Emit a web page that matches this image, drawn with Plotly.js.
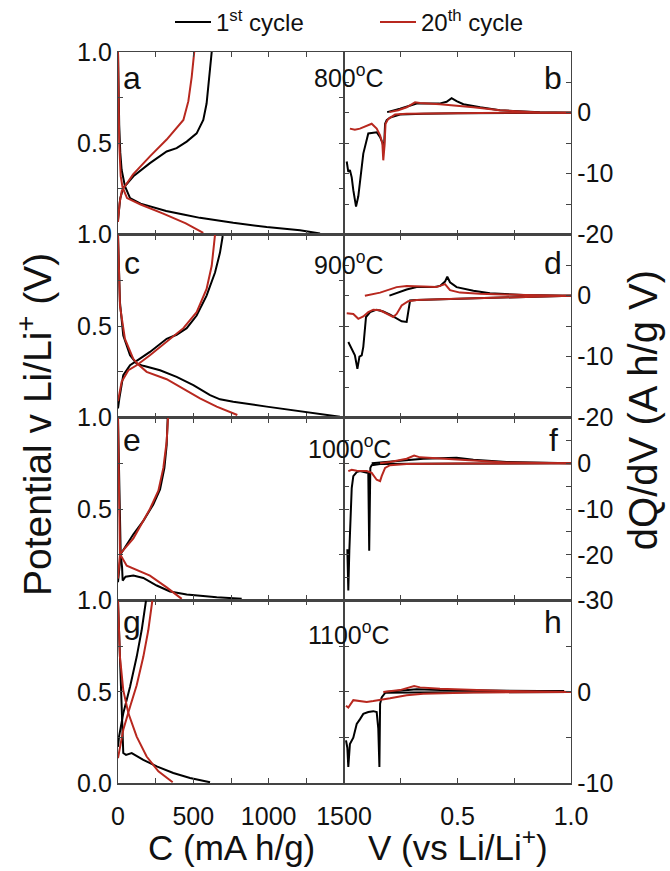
<!DOCTYPE html>
<html>
<head>
<meta charset="utf-8">
<script src="https://cdn.plot.ly/plotly-3.0.1.min.js"></script>
<style>html,body{margin:0;padding:0;background:#fff}#chart{width:670px;height:871px}</style>
</head>
<body>
<div id="chart"></div>
<script>
// ---------- DATA: potential (V) vs capacity C (mA h/g); discharge, null, charge ----------
const a_c1_C  = [0, 3, 8, 15, 24, 46, 80, 150, 212, 320, 434, 544, 765, 987, 1208, 1341, null, 0, 15, 35, 102, 212, 323, 389, 456, 522, 566, 588, 606, 615, 622];
const a_c1_V  = [1.0, 0.8, 0.6, 0.45, 0.355, 0.265, 0.20, 0.17, 0.156, 0.13, 0.11, 0.092, 0.065, 0.042, 0.024, 0.007, null, 0.08, 0.2, 0.255, 0.319, 0.391, 0.455, 0.473, 0.509, 0.554, 0.627, 0.717, 0.862, 0.93, 1.0];
const a_c20_C = [0, 3, 8, 18, 30, 60, 150, 300, 450, 566, null, 0, 10, 25, 100, 212, 323, 434, 467, 489, 506];
const a_c20_V = [1.0, 0.75, 0.5, 0.32, 0.26, 0.2, 0.165, 0.115, 0.062, 0.01, null, 0.07, 0.17, 0.24, 0.33, 0.428, 0.52, 0.627, 0.73, 0.862, 1.0];

const c_c1_C  = [0, 5, 13, 35, 80, 124, 168, 279, 389, 500, 611, 677, 765, 987, 1208, 1473, null, 0, 9, 35, 80, 146, 212, 323, 389, 456, 522, 588, 644, 677, 695];
const c_c1_V  = [1.0, 0.8, 0.63, 0.449, 0.341, 0.295, 0.283, 0.259, 0.223, 0.178, 0.123, 0.10, 0.087, 0.06, 0.036, 0.005, null, 0.05, 0.105, 0.232, 0.286, 0.322, 0.359, 0.431, 0.453, 0.489, 0.558, 0.667, 0.793, 0.902, 0.993];
const c_c20_C = [0, 5, 13, 46, 102, 135, 190, 323, 434, 544, 655, 792, null, 0, 24, 69, 124, 212, 323, 434, 522, 588, 622, 644];
const c_c20_V = [1.0, 0.8, 0.61, 0.43, 0.32, 0.29, 0.25, 0.21, 0.159, 0.105, 0.06, 0.014, null, 0.09, 0.196, 0.259, 0.286, 0.341, 0.413, 0.489, 0.576, 0.703, 0.83, 1.0];

const e_c1_C  = [0, 5, 9, 18, 27, 31, 50, 102, 168, 257, 345, 456, 655, 821, null, 0, 18, 102, 168, 234, 279, 308, 323, 330];
const e_c1_V  = [1.0, 0.8, 0.543, 0.254, 0.181, 0.109, 0.13, 0.136, 0.123, 0.082, 0.049, 0.033, 0.018, 0.009, null, 0.1, 0.254, 0.362, 0.435, 0.525, 0.607, 0.725, 0.851, 1.0];
const e_c20_C = [0, 4, 9, 13, 58, 212, 323, 423, null, 0, 13, 102, 212, 268, 301, 323, 332];
const e_c20_V = [1.0, 0.8, 0.55, 0.254, 0.19, 0.136, 0.072, 0.009, null, 0.12, 0.254, 0.34, 0.5, 0.6, 0.725, 0.87, 1.0];

const g_c1_C  = [0, 13, 27, 35, 53, 91, 168, 257, 367, 478, 611, null, 0, 7, 35, 80, 124, 157, 186];
const g_c1_V  = [1.0, 0.692, 0.419, 0.166, 0.156, 0.166, 0.129, 0.093, 0.057, 0.03, 0.006, null, 0.2, 0.256, 0.383, 0.528, 0.692, 0.837, 1.0];
const g_c20_C = [0, 5, 13, 35, 69, 124, 190, 268, 363, null, 0, 35, 80, 124, 168, 201, 228];
const g_c20_V = [1.0, 0.85, 0.692, 0.51, 0.383, 0.256, 0.147, 0.066, 0.006, null, 0.138, 0.293, 0.419, 0.537, 0.692, 0.837, 1.0];

// ---------- DATA: dQ/dV (A h/g V) vs V (vs Li/Li+) ----------
const b_c1_V  = [0.012, 0.019, 0.026, 0.034, 0.041, 0.053, 0.063, 0.070, 0.085, 0.107, 0.122, 0.144, 0.159, 0.170, 0.176, 0.181, 0.188, 0.203, 0.247, 0.35, 0.5, 0.7, 1.0, null, 0.19, 0.247, 0.32, 0.42, 0.452, 0.474, 0.496, 0.526, 0.6, 0.687, 0.863, 1.0];
const b_c1_Q  = [-8.0, -9.7, -9.4, -10.6, -12.7, -15.4, -13.7, -11.6, -6.7, -3.4, -3.3, -3.2, -4.0, -5.0, -6.0, -1.8, -1.2, -0.8, -0.3, -0.15, -0.08, -0.03, 0, null, 0.1, 0.65, 1.5, 1.5, 1.8, 2.4, 1.9, 1.4, 0.9, 0.4, 0.1, 0.0];
const b_c20_V = [0.026, 0.048, 0.070, 0.092, 0.122, 0.144, 0.159, 0.169, 0.173, 0.178, 0.183, 0.195, 0.225, 0.276, 0.4, 0.6, 1.0, null, 0.2, 0.239, 0.276, 0.313, 0.335, 0.423, 0.570, 0.687, 0.863, 1.0];
const b_c20_Q = [-2.6, -2.8, -2.6, -2.3, -1.8, -2.6, -3.7, -5.0, -7.8, -5.6, -1.8, -1.0, -0.3, -0.15, -0.08, -0.03, 0, null, 0.1, 0.4, 0.9, 1.7, 1.6, 1.4, 0.9, 0.4, 0.05, 0];

const d_c1_V  = [0.019, 0.034, 0.048, 0.059, 0.068, 0.078, 0.085, 0.097, 0.115, 0.144, 0.173, 0.203, 0.232, 0.254, 0.276, 0.291, 0.32, 0.423, 0.55, 0.7, 1.0, null, 0.2, 0.232, 0.276, 0.32, 0.394, 0.423, 0.445, 0.455, 0.467, 0.496, 0.57, 0.643, 0.79, 1.0];
const d_c1_Q  = [-7.6, -8.7, -9.8, -12.0, -10.0, -9.8, -8.4, -3.5, -2.7, -2.3, -2.6, -3.1, -3.8, -4.2, -4.3, -0.8, -0.7, -0.6, -0.45, -0.25, 0, null, 0, 0.4, 1.0, 1.4, 1.4, 1.6, 2.3, 3.1, 2.2, 1.4, 0.8, 0.4, 0.1, 0];
const d_c20_V = [0.012, 0.041, 0.063, 0.085, 0.107, 0.129, 0.159, 0.195, 0.217, 0.232, 0.254, 0.283, 0.32, 0.423, 0.55, 0.7, 1.0, null, 0.092, 0.159, 0.232, 0.276, 0.349, 0.408, 0.445, 0.467, 0.511, 0.599, 0.8, 1.0];
const d_c20_Q = [-2.9, -3.0, -3.8, -3.4, -2.7, -2.3, -2.4, -3.0, -3.5, -3.0, -1.6, -0.9, -0.7, -0.6, -0.45, -0.25, 0, null, 0, 0.5, 1.4, 1.6, 1.5, 1.4, 1.9, 0.9, 0.5, 0.3, 0.1, 0];

const f_c1_V  = [0.0147, 0.019, 0.0235, 0.026, 0.034, 0.041, 0.056, 0.070, 0.092, 0.107, 0.111, 0.116, 0.122, 0.159, 0.3, 0.6, 1.0, null, 0.122, 0.203, 0.276, 0.349, 0.496, 0.57, 0.716, 1.0];
const f_c1_Q  = [-18.8, -27.8, -19.1, -15.5, -5.4, -2.8, -1.9, -1.7, -1.9, -2.1, -19.1, -1.0, -0.4, -0.15, -0.08, -0.03, 0, null, 0, 0.4, 0.8, 1.0, 1.2, 0.8, 0.3, 0];
const f_c20_V = [0.019, 0.034, 0.056, 0.100, 0.122, 0.144, 0.159, 0.166, 0.181, 0.203, 0.276, 0.5, 1.0, null, 0.159, 0.203, 0.276, 0.309, 0.335, 0.423, 0.57, 0.716, 1.0];
const f_c20_Q = [-1.7, -1.4, -1.6, -1.7, -2.1, -3.6, -3.9, -2.8, -1.0, -0.4, -0.15, -0.05, 0, null, 0, 0.3, 1.0, 1.7, 1.3, 1.0, 0.6, 0.2, 0];

const h_c1_V  = [0.0088, 0.0147, 0.019, 0.026, 0.041, 0.056, 0.070, 0.085, 0.107, 0.129, 0.144, 0.151, 0.156, 0.159, 0.166, 0.181, 0.3, 0.6, 1.0, null, 0.181, 0.276, 0.32, 0.423, 0.57, 0.863, 0.97];
const h_c1_Q  = [-5.3, -6.1, -8.2, -5.7, -5.0, -3.5, -3.0, -2.4, -2.2, -2.1, -2.2, -4.0, -8.2, -1.3, -0.6, -0.1, -0.05, -0.02, 0, null, 0, 0.2, 0.3, 0.2, 0.15, 0.1, 0.1];
const h_c20_V = [0.0088, 0.019, 0.041, 0.070, 0.100, 0.129, 0.159, 0.203, 0.276, 0.349, 0.57, 1.0, null, 0.173, 0.247, 0.309, 0.335, 0.423, 0.57, 0.716, 1.0];
const h_c20_Q = [-1.5, -1.7, -0.9, -1.0, -1.1, -1.0, -0.9, -0.7, -0.36, -0.2, -0.07, 0, null, 0, 0.2, 0.65, 0.5, 0.36, 0.2, 0.1, 0];

// ---------- labels / ticks ----------
const seriesNames = ['1<sup>st</sup> cycle', '20<sup>th</sup> cycle'];
const tempLabels = ['800<sup>o</sup>C', '900<sup>o</sup>C', '1000<sup>o</sup>C', '1100<sup>o</sup>C'];
const leftLetters = ['a', 'c', 'e', 'g'];
const rightLetters = ['b', 'd', 'f', 'h'];
const capTicks = [0, 500, 1000, 1500];
const capTickText = ['0', '500', '1000', '1500'];
const potTicksTop = [0.5, 1.0];
const potTextTop = ['0.5', '1.0'];
const potTicksLast = [0, 0.5, 1.0];
const potTextLast = ['0.0', '0.5', '1.0'];
const vTicks = [0.5, 1.0];
const vTickText = ['0.5', '1.0'];
const dqRanges = [[-20, 10], [-20, 10], [-30, 10], [-10, 10]];
const dqTicks = [[-20, -10, 0], [-20, -10, 0], [-30, -20, -10, 0], [-10, 0]];
const dqTickText = [['-20', '-10', '0'], ['-20', '-10', '0'], ['-30', '-20', '-10', '0'], ['-10', '0']];
const xTitleLeft = 'C (mA h/g)';
const xTitleRight = 'V (vs Li/Li<sup>+</sup>)';
const yTitleLeft = 'Potential v Li/Li<sup>+</sup> (V)';
const yTitleRight = 'dQ/dV (A h/g V)';

// ---------- layout geometry ----------
const W = 670, H = 871;
const FONT = 'Liberation Sans, Arial, Helvetica, sans-serif';
const BLACK = '#000000', RED = '#b8281f';
const px = x => x / W, py = y => 1 - y / H;
const xL = [px(118), px(344)], xR = [px(344), px(571)];
const rowTop = [48, 231.75, 415.5, 599.25], rowH = 183.75;

const leftData = [[a_c1_C, a_c1_V, a_c20_C, a_c20_V], [c_c1_C, c_c1_V, c_c20_C, c_c20_V], [e_c1_C, e_c1_V, e_c20_C, e_c20_V], [g_c1_C, g_c1_V, g_c20_C, g_c20_V]];
const rightData = [[b_c1_V, b_c1_Q, b_c20_V, b_c20_Q], [d_c1_V, d_c1_Q, d_c20_V, d_c20_Q], [f_c1_V, f_c1_Q, f_c20_V, f_c20_Q], [h_c1_V, h_c1_Q, h_c20_V, h_c20_Q]];

const traces = [];
const legFont = {size: 24, family: FONT, color: '#111'};
const layout = {
  width: W, height: H, margin: {l: 0, r: 0, t: 0, b: 0},
  paper_bgcolor: '#fff', plot_bgcolor: 'rgba(0,0,0,0)',
  font: {family: FONT, size: 25, color: '#111'},
  showlegend: true,
  legend: {x: px(170), y: py(-4), xanchor: 'left', yanchor: 'top', orientation: 'h', font: legFont, bgcolor: 'rgba(0,0,0,0)', itemwidth: 36},
  legend2: {x: px(375), y: py(-4), xanchor: 'left', yanchor: 'top', orientation: 'h', font: legFont, bgcolor: 'rgba(0,0,0,0)', itemwidth: 36},
  annotations: []
};

const LC = '#444';
const axCommon = {showgrid: false, zeroline: false, showline: true, linecolor: LC, linewidth: 1.2,
  ticks: 'inside', ticklen: 5, tickwidth: 1, tickcolor: LC, mirror: 'ticks', fixedrange: true,
  tickfont: {family: FONT, size: 25, color: '#111'}};
const minorOf = d => ({tickmode: 'linear', tick0: 0, dtick: d, ticks: 'inside', ticklen: 5, tickwidth: 1, tickcolor: LC, showgrid: false});

for (let r = 0; r < 4; r++) {
  const top = rowTop[r], bot = top + rowH;
  const yd = [py(bot), py(top)];
  const iL = 2 * r + 1, iR = 2 * r + 2;
  const last = r === 3;
  layout['xaxis' + iL] = Object.assign({}, axCommon, {domain: xL, range: [0, 1500], anchor: 'y' + iL,
    tickmode: 'array', tickvals: capTicks, ticktext: capTickText, showticklabels: last, ticklabelstandoff: 10, minor: minorOf(250)});
  layout['yaxis' + iL] = Object.assign({}, axCommon, {domain: yd, range: [0, 1], anchor: 'x' + iL,
    tickmode: 'array', tickvals: last ? potTicksLast : potTicksTop, ticktext: last ? potTextLast : potTextTop, minor: minorOf(0.25)});
  layout['xaxis' + iR] = Object.assign({}, axCommon, {domain: xR, range: [0, 1], anchor: 'y' + iR,
    tickmode: 'array', tickvals: vTicks, ticktext: vTickText, showticklabels: last, ticklabelstandoff: 10, minor: minorOf(0.25)});
  layout['yaxis' + iR] = Object.assign({}, axCommon, {domain: yd, range: dqRanges[r], anchor: 'x' + iR, side: 'right',
    tickmode: 'array', tickvals: dqTicks[r], ticktext: dqTickText[r], minor: minorOf(5)});

  const L = leftData[r], R = rightData[r];
  traces.push({x: L[0], y: L[1], xaxis: 'x' + iL, yaxis: 'y' + iL, mode: 'lines', line: {color: BLACK, width: 2}, name: seriesNames[0], showlegend: r === 0, legend: 'legend', connectgaps: false, hoverinfo: 'skip'});
  traces.push({x: L[2], y: L[3], xaxis: 'x' + iL, yaxis: 'y' + iL, mode: 'lines', line: {color: RED, width: 2}, name: seriesNames[1], showlegend: r === 0, legend: 'legend2', connectgaps: false, hoverinfo: 'skip'});
  traces.push({x: R[0], y: R[1], xaxis: 'x' + iR, yaxis: 'y' + iR, mode: 'lines', line: {color: BLACK, width: 2}, name: seriesNames[0], showlegend: false, connectgaps: false, hoverinfo: 'skip'});
  traces.push({x: R[2], y: R[3], xaxis: 'x' + iR, yaxis: 'y' + iR, mode: 'lines', line: {color: RED, width: 2}, name: seriesNames[1], showlegend: false, connectgaps: false, hoverinfo: 'skip'});

  const letterBase = [85, 271, 449, 632][r];
  layout.annotations.push({xref: 'paper', yref: 'paper', x: px(132), y: py(letterBase - 11), text: leftLetters[r], showarrow: false, xanchor: 'center', yanchor: 'middle', font: {family: FONT, size: 32, color: '#111'}});
  layout.annotations.push({xref: 'paper', yref: 'paper', x: px(553), y: py(letterBase - 11), text: rightLetters[r], showarrow: false, xanchor: 'center', yanchor: 'middle', font: {family: FONT, size: 32, color: '#111'}});
  const tempBase = [80, 268, 453, 640][r];
  layout.annotations.push({xref: 'paper', yref: 'paper', x: px(349), y: py(tempBase - 8), text: tempLabels[r], showarrow: false, xanchor: 'center', yanchor: 'middle', font: {family: FONT, size: 25, color: '#111'}});
}

// axis titles
layout.annotations.push({xref: 'paper', yref: 'paper', x: px(231), y: py(847), text: xTitleLeft, showarrow: false, xanchor: 'center', yanchor: 'middle', font: {family: FONT, size: 35, color: '#111'}});
layout.annotations.push({xref: 'paper', yref: 'paper', x: px(458), y: py(845), text: xTitleRight, showarrow: false, xanchor: 'center', yanchor: 'middle', font: {family: FONT, size: 35, color: '#111'}});
layout.annotations.push({xref: 'paper', yref: 'paper', x: px(34), y: py(423), text: yTitleLeft, textangle: -90, showarrow: false, xanchor: 'center', yanchor: 'middle', font: {family: FONT, size: 39, color: '#111'}});
layout.annotations.push({xref: 'paper', yref: 'paper', x: px(643), y: py(408), text: yTitleRight, textangle: -90, showarrow: false, xanchor: 'center', yanchor: 'middle', font: {family: FONT, size: 40, color: '#111'}});

Plotly.newPlot('chart', traces, layout, {staticPlot: true, displayModeBar: false});
</script>
</body>
</html>
